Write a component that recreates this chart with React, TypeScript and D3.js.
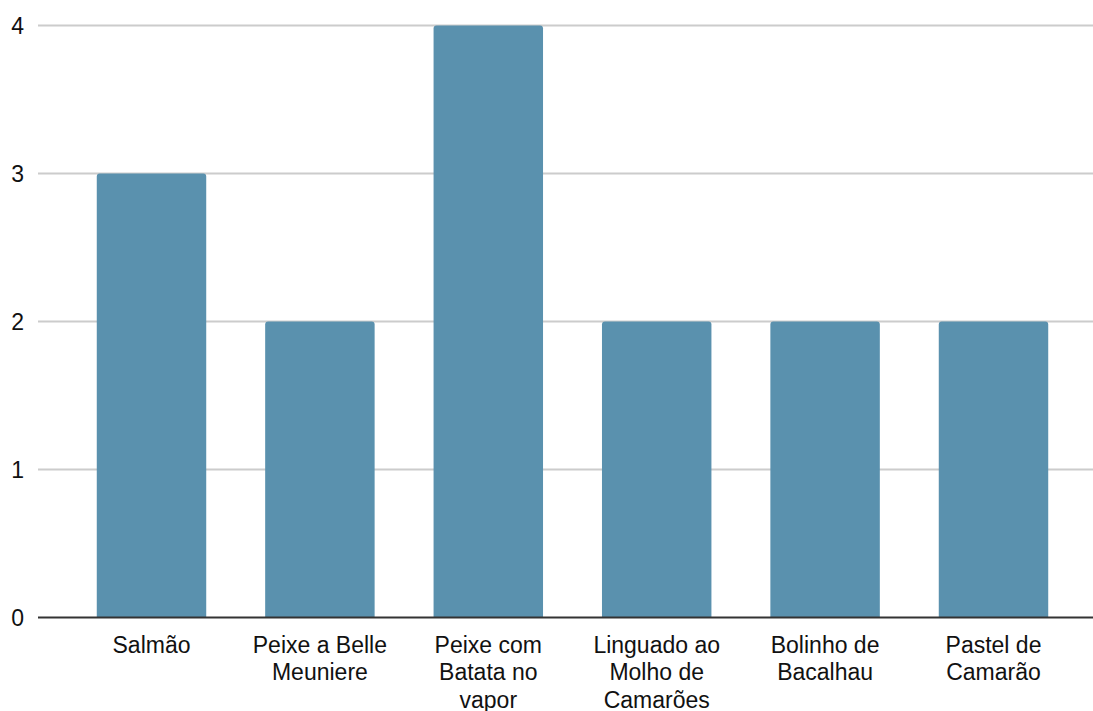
import React from "react";
import * as d3 from "d3";

const categories = [
  "Salmão",
  "Peixe a Belle Meuniere",
  "Peixe com Batata no vapor",
  "Linguado ao Molho de Camarões",
  "Bolinho de Bacalhau",
  "Pastel de Camarão",
];
const values = [3, 2, 4, 2, 2, 2];
const yTicks = [0, 1, 2, 3, 4];

const W = 1093;
const H = 711;

function wrap(label: string, maxChars: number): string[] {
  const words = label.split(" ");
  const lines: string[] = [];
  let cur = "";
  for (const w of words) {
    const next = cur ? cur + " " + w : w;
    if (next.length > maxChars && cur) {
      lines.push(cur);
      cur = w;
    } else cur = next;
  }
  if (cur) lines.push(cur);
  return lines;
}

export default function App() {
  const x = d3
    .scaleBand<string>()
    .domain(categories)
    .range([67.3, 1077.7])
    .paddingInner(0.35)
    .paddingOuter(0.175);
  const y = d3.scaleLinear().domain([0, 4]).range([617.5, 25.5]);
  const gridLeft = 38;
  const gridRight = W;
  const r = 3;
  const font = "Liberation Sans, Arial, sans-serif";
  const fs = 23;

  const barPath = (cx: number, bw: number, top: number, bottom: number) => {
    const x0 = cx;
    const x1 = cx + bw;
    return `M${x0},${bottom}L${x0},${top + r}Q${x0},${top} ${x0 + r},${top}L${x1 - r},${top}Q${x1},${top} ${x1},${top + r}L${x1},${bottom}Z`;
  };

  return (
    <svg
      width={W}
      height={H}
      style={{ position: "absolute", left: 0, top: 0, background: "#fff" }}
    >
      {yTicks.map((t) =>
        t === 0 ? null : (
          <line
            key={"g" + t}
            x1={gridLeft}
            x2={gridRight}
            y1={y(t)}
            y2={y(t)}
            stroke="#cccccc"
            strokeWidth={2}
          />
        )
      )}
      {yTicks.map((t) => (
        <text
          key={"t" + t}
          x={24}
          y={y(t)}
          dy="0.36em"
          textAnchor="end"
          fontFamily={font}
          fontSize={fs}
          fill="#111"
        >
          {t}
        </text>
      ))}
      {categories.map((c, i) => (
        <path
          key={"b" + c}
          d={barPath(x(c)!, x.bandwidth(), y(values[i]), y(0))}
          fill="#5a91ae"
        />
      ))}
      <line
        x1={gridLeft}
        x2={gridRight}
        y1={y(0)}
        y2={y(0)}
        stroke="#333"
        strokeWidth={2}
      />
      {categories.map((c) => {
        const lines = wrap(c, 13);
        const cx = x(c)! + x.bandwidth() / 2;
        return (
          <text
            key={"l" + c}
            x={cx}
            y={652.5}
            textAnchor="middle"
            fontFamily={font}
            fontSize={fs}
            fill="#111"
          >
            {lines.map((ln, j) => (
              <tspan key={j} x={cx} y={652.5 + j * 27.5}>
                {ln}
              </tspan>
            ))}
          </text>
        );
      })}
    </svg>
  );
}
